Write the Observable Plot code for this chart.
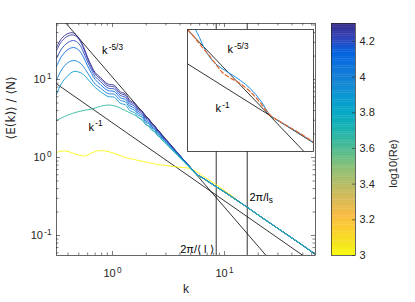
<!DOCTYPE html>
<html><head><meta charset="utf-8">
<script src="https://cdn.jsdelivr.net/npm/d3@7"></script>
<script src="https://cdn.jsdelivr.net/npm/@observablehq/plot@0.6"></script>
<style>
body{margin:0;background:#fff;}
#wrap{position:relative;width:415px;height:302px;}
#wrap svg{position:absolute;overflow:visible;}
</style></head><body><div id="wrap"></div>
<script>
// ---------- data ----------
const k = [0.316,0.35,0.4,0.45,0.5,0.55,0.6,0.65,0.7,0.78,0.91,1.04,1.17,1.30,1.44,1.57,1.71,1.84,1.98,2.11,2.25,2.38,2.52,2.65,2.8,3.0,3.4,3.8,4.3,4.9,5.6,6.5,7.5,8.5,10,12,14,17,20,25,30,40,50,65];
const logRe = [3.0, 3.65, 3.9, 4.0, 4.1, 4.2, 4.25, 4.3];
const E_430 = [25.72,33.54,38.89,39.47,34.05,26.49,19.15,14.90,12.29,10.61,8.756,8.426,6.976,6.556,5.348,4.997,4.186,3.947,3.306,3.145,2.704,2.572,2.232,2.129,1.870,1.701,1.384,1.152,0.943,0.767,0.614];
const E_425 = [23.54,30.71,36.13,37.21,33.06,25.34,18.32,14.25,11.77,10.15,8.304,8.016,6.654,6.273,5.132,4.809,4.041,3.820,3.210,3.062,2.641,2.519,2.193,2.098,1.848,1.686,1.375,1.145,0.940,0.764,0.614];
const E_420 = [18.58,24.60,29.82,31.62,28.94,22.52,16.76,13.24,10.93,9.428,7.780,7.533,6.273,5.931,4.866,4.574,3.854,3.654,3.079,2.946,2.549,2.439,2.129,2.043,1.804,1.652,1.351,1.132,0.932,0.762,0.614];
const E_410 = [14.68,19.72,24.25,25.72,23.89,19.43,14.90,11.94,10.0,8.628,7.228,7.017,5.861,5.557,4.574,4.312,3.654,3.475,2.938,2.818,2.446,2.347,2.055,1.978,1.752,1.609,1.328,1.119,0.926,0.760,0.614];
const E_400 = [9.709,13.24,16.52,17.52,16.76,14.68,12.12,10.15,8.756,7.780,6.614,6.460,5.428,5.177,4.287,4.064,3.455,3.306,2.810,2.713,2.361,2.272,1.995,1.926,1.711,1.576,1.308,1.109,0.921,0.758,0.614];
const E_390 = [6.424,8.886,11.25,12.66,12.48,11.59,10.15,8.886,7.897,7.017,6.055,5.913,4.968,4.739,3.958,3.764,3.210,3.079,2.626,2.542,2.226,2.154,1.903,1.842,1.642,1.521,1.274,1.086,0.910,0.753,0.614];
const E_tail = [0.538,0.471,0.419,0.361,0.303,0.261,0.216,0.183,0.147,0.123,0.0929,0.0745,0.0571];
const E_365 = [2.982,3.210,3.506,3.720,3.888,4.005,4.101,4.186,4.312,4.534,4.711,4.601,4.312,4.005,3.720,3.506,3.277,2.982,2.729,2.497,2.286,2.123,1.943,1.804,1.652,1.490,1.248,1.061,0.889,0.734,0.605,0.534,0.468,0.416,0.359,0.302,0.260,0.216,0.183,0.147,0.123,0.0932,0.0750,0.0575];
const E_300 = [1.159,1.211,1.194,1.125,1.077,1.045,1.077,1.142,1.194,1.229,1.194,1.125,1.061,1.0,0.965,0.943,0.915,0.897,0.876,0.858,0.843,0.825,0.813,0.806,0.799,0.790,0.771,0.756,0.744,0.723,0.661,0.571,0.500,0.444,0.377,0.312,0.261,0.216,0.183,0.147,0.123,0.0929,0.0745,0.0571];

const slope53K = [0.3, 30], slope53E = [79.6, 0.0369];
const slope1K = [0.3, 70], slope1E = [9.27, 0.0397];
const kScales = [8.43, 15.95];

const annotText = ["k^{-5/3}", "k^{-1}", "2π/l_{s}", "2π/⟨ l ⟩"];
const annotK = [0.806, 0.610, 16.7, 7.98];
const annotE = [21.2, 2.22, 0.281, 0.0605];
const annotAnchor = ["start", "start", "start", "end"];

const xMajor = [1, 10];
const xMinor = [0.4,0.5,0.6,0.7,0.8,0.9,2,3,4,5,6,7,8,9,20,30,40,50,60];
const yMajor = [0.1, 1, 10];
const yMinor = [0.06,0.07,0.08,0.09,0.2,0.3,0.4,0.5,0.6,0.7,0.8,0.9,2,3,4,5,6,7,8,9,20,30,40,50];
const cbTicks = [3, 3.2, 3.4, 3.6, 3.8, 4, 4.2];

// inset
const insetBlueK = [1.34,1.55,1.815,2.154,2.615,3.34,4.81,6.94,10,14.4,20.8,29.9,43.2,62.2,98.9];
const insetBlueE = [1.0,0.627,0.356,0.220,0.149,0.109,0.0756,0.0512,0.0315,0.0160,0.00665,0.00455,0.00321,0.00226,0.00140];
const insetOrangeK = [1.018,1.34,1.73,2.318,2.886,3.554,4.81,6.94,10,14.4,20.8,29.9,43.2,62.2,98.9];
const insetOrangeE = [0.983,0.582,0.350,0.199,0.126,0.0830,0.0592,0.0422,0.0262,0.0138,0.00665,0.00462,0.00326,0.00230,0.00143];
const inset53K = [1, 70], inset53E = [0.982, 0.000826];
const inset1K = [1, 100], inset1E = [0.135, 0.00135];
const insetText = ["k^{-5/3}", "k^{-1}"];
const insetTextK = [4.32, 2.78];
const insetTextE = [0.247, 0.00792];

// parula colormap stops
const parulaPos = [0,4,8,12,16,20,24,28,32,36,40,44,48,52,56,60,63].map(i => i/63);
const parulaHex = ["#352a87","#3243ba","#0363e1","#0d75dc","#1485d4","#0998d1","#06a7c6","#15b1b4","#38b99e","#65be86","#92bf73","#b7bd64","#d9ba56","#f8bb44","#fcce2e","#f5e41d","#f9fb0e"];

// ---------- build ----------
const parulaScale = d3.scaleLinear().domain(parulaPos).range(parulaHex).interpolate(d3.interpolateRgb).clamp(true);
const parula = t => parulaScale(t);
const reDomain = [3, 4.3];
const colorOpt = {type: "linear", domain: reDomain, interpolate: t => parula(1 - t)};

const seriesE = [E_300, E_365, [...E_390, ...E_tail], [...E_400, ...E_tail], [...E_410, ...E_tail], [...E_420, ...E_tail], [...E_425, ...E_tail], [...E_430, ...E_tail]];
const order = [0, 7, 6, 5, 4, 3, 2, 1];
const rows = order.flatMap(i => seriesE[i].map((e, j) => ({k: k[j], E: e, re: logRe[i]})));
const line53 = slope53K.map((kk, i) => ({k: kk, E: slope53E[i]}));
const line1 = slope1K.map((kk, i) => ({k: kk, E: slope1E[i]}));
const annots = annotText.map((t, i) => ({t, k: annotK[i], E: annotE[i], a: annotAnchor[i]}));

const W = 415, H = 302, mL = 56, mR = 100, mT = 23, mB = 47;
const iW = W - mL - mR, iH = H - mT - mB;
const ax = "#262626";
const font = "'Liberation Sans', Arial, Helvetica, sans-serif";
const xDomain = [0.3162, 64.9], yDomain = [0.0554, 52.3];
const sup = d => "10^{" + Math.round(Math.log10(d)) + "}";

const main = Plot.plot({
  width: W, height: H, marginLeft: mL, marginRight: mR, marginTop: mT, marginBottom: mB,
  style: {fontFamily: font, fontSize: "11px", color: ax, background: "transparent", overflow: "visible"},
  x: {type: "log", domain: xDomain},
  y: {type: "log", domain: yDomain},
  color: colorOpt,
  marks: [
    Plot.line(line53, {x: "k", y: "E", stroke: "#000", strokeWidth: 0.8, clip: true}),
    Plot.line(line1, {x: "k", y: "E", stroke: "#000", strokeWidth: 0.8, clip: true}),
    Plot.ruleX(kScales, {stroke: "#000", strokeWidth: 0.8}),
    Plot.line(rows, {x: "k", y: "E", z: "re", stroke: "re", strokeWidth: 0.9, curve: "catmull-rom", clip: true}),
    Plot.text(annots.filter(d => d.a === "start"), {x: "k", y: "E", text: "t", textAnchor: "start", lineAnchor: "bottom", fill: "#000", fontSize: 11}),
    Plot.text(annots.filter(d => d.a === "end"), {x: "k", y: "E", text: "t", textAnchor: "end", lineAnchor: "bottom", fill: "#000", fontSize: 11}),
    Plot.ruleX(xMinor, {insetTop: iH - 2.5, stroke: ax, strokeWidth: 0.6}),
    Plot.ruleX(xMinor, {insetBottom: iH - 2.5, stroke: ax, strokeWidth: 0.6}),
    Plot.ruleX(xMajor, {insetTop: iH - 4, stroke: ax, strokeWidth: 0.6}),
    Plot.ruleX(xMajor, {insetBottom: iH - 4, stroke: ax, strokeWidth: 0.6}),
    Plot.ruleY(yMinor, {insetRight: iW - 2.5, stroke: ax, strokeWidth: 0.6}),
    Plot.ruleY(yMinor, {insetLeft: iW - 2.5, stroke: ax, strokeWidth: 0.6}),
    Plot.ruleY(yMajor, {insetRight: iW - 4, stroke: ax, strokeWidth: 0.6}),
    Plot.ruleY(yMajor, {insetLeft: iW - 4, stroke: ax, strokeWidth: 0.6}),
    Plot.frame({stroke: ax, strokeWidth: 0.7}),
    Plot.axisX({ticks: xMajor, tickSize: 0, tickPadding: 14, tickFormat: sup, label: null, fill: ax}),
    Plot.axisY({ticks: yMajor, tickSize: 0, tickPadding: 5, tickFormat: sup, label: null, fill: ax}),
    Plot.text(["k"], {frameAnchor: "bottom", dy: 37, fontSize: 12, fill: ax}),
    Plot.text(["⟨E(k)⟩ / ⟨N⟩"], {frameAnchor: "left", dx: -45, rotate: -90, fontSize: 12, fill: ax, fontFamily: "'DejaVu Sans', sans-serif"})
  ]
});

const cbSteps = d3.range(3, 4.3, 0.01);
const cb = Plot.plot({
  width: W, height: H, marginLeft: 331, marginRight: 60, marginTop: mT, marginBottom: mB,
  style: {fontFamily: font, fontSize: "11px", color: ax, background: "transparent", overflow: "visible"},
  x: {domain: [0, 1], axis: null},
  y: {domain: reDomain, axis: null},
  color: colorOpt,
  marks: [
    Plot.rect(cbSteps, {x1: 0, x2: 1, y1: d => d, y2: d => Math.min(d + 0.012, 4.3), fill: d => d + 0.005}),
    Plot.ruleY(cbTicks, {insetLeft: 21, stroke: ax, strokeWidth: 0.6}),
    Plot.frame({stroke: ax, strokeWidth: 0.7}),
    Plot.axisY({anchor: "right", ticks: cbTicks, tickSize: 0, tickPadding: 4, tickFormat: d => String(+d.toFixed(1)), label: null, fill: ax}),
    Plot.text(["log10(Re)"], {frameAnchor: "right", dx: 38, rotate: -90, fontSize: 11, fill: ax})
  ]
});

const insetRows = (ks, es) => ks.map((kk, i) => ({k: kk, E: es[i]}));
const inset = Plot.plot({
  width: 126, height: 122, marginLeft: 0, marginRight: 0, marginTop: 0, marginBottom: 0,
  style: {fontFamily: font, fontSize: "11px", background: "white", overflow: "visible"},
  x: {type: "log", domain: [1, 100], axis: null},
  y: {type: "log", domain: [0.000815, 1], axis: null},
  marks: [
    Plot.line(insetRows(inset53K, inset53E), {x: "k", y: "E", stroke: "#000", strokeWidth: 0.8, clip: true}),
    Plot.line(insetRows(inset1K, inset1E), {x: "k", y: "E", stroke: "#000", strokeWidth: 0.8, clip: true}),
    Plot.line(insetRows(insetBlueK, insetBlueE), {x: "k", y: "E", stroke: "#1a8fe3", strokeWidth: 1, curve: "catmull-rom", clip: true}),
    Plot.line(insetRows(insetOrangeK, insetOrangeE), {x: "k", y: "E", stroke: "#e5662a", strokeWidth: 1.2, strokeDasharray: "4,2.5", curve: "catmull-rom", clip: true}),
    Plot.text(insetText.map((t, i) => ({t, k: insetTextK[i], E: insetTextE[i]})), {x: "k", y: "E", text: "t", textAnchor: "start", lineAnchor: "bottom", fill: "#000", fontSize: 11}),
    Plot.frame({stroke: ax, strokeWidth: 0.8})
  ]
});
inset.style.left = "187px";
inset.style.top = "29px";

function rich(svg) {
  svg.querySelectorAll("text").forEach(t => {
    const ts = t.querySelectorAll("tspan");
    const nodes = ts.length ? [...ts] : [t];
    nodes.forEach(n => {
      const s = n.textContent;
      const m = s.match(/^(.*?)([\^_])\{(.*)\}$/);
      if (!m) return;
      n.textContent = m[1];
      const sp = document.createElementNS("http://www.w3.org/2000/svg", "tspan");
      sp.setAttribute("font-size", "75%");
      sp.setAttribute("dy", m[2] === "^" ? "-0.5em" : "0.35em");
      if (m[2] === "^") sp.setAttribute("dx", "0.15em");
      sp.textContent = m[3];
      n.appendChild(sp);
    });
  });
}
[main, cb, inset].forEach(rich);
const wrap = document.getElementById("wrap");
wrap.appendChild(main);
wrap.appendChild(cb);
wrap.appendChild(inset);
</script></body></html>
